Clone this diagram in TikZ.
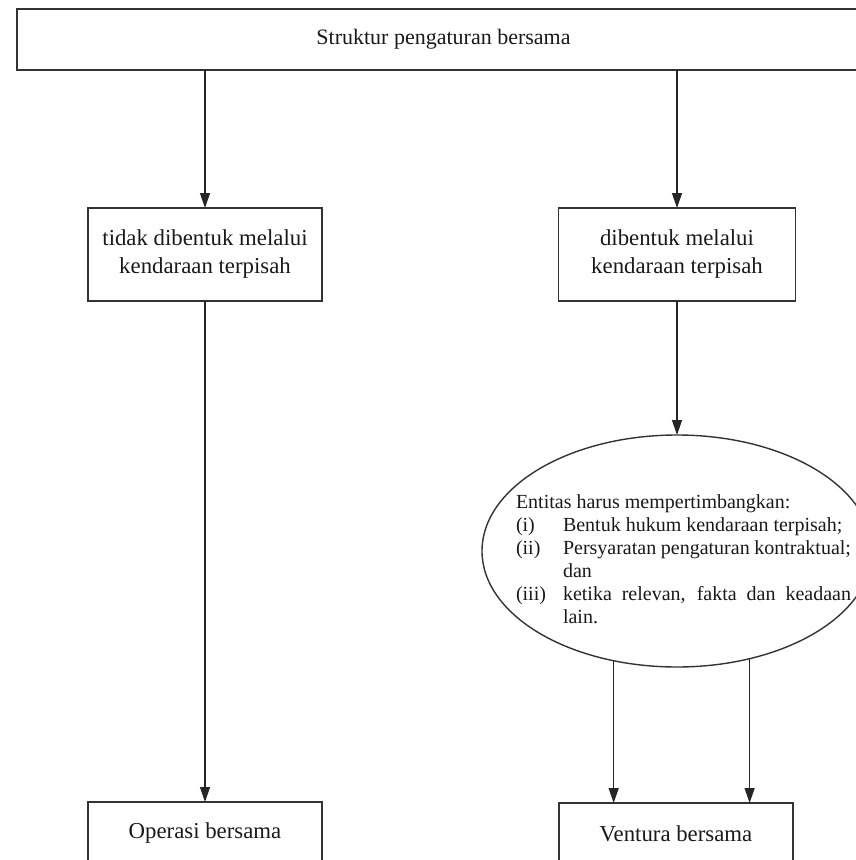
\documentclass[tikz,border=0pt]{standalone}
\usepackage{fontspec}
\setmainfont{Liberation Serif}
\usetikzlibrary{arrows.meta,shapes.geometric}
\begin{document}
\begin{tikzpicture}[x=1pt,y=-1pt,
  line/.style={draw=black!80, line width=1.4pt},
  box/.style={line, rectangle, inner sep=0pt, outer sep=0pt},
  arr/.style={draw=black!85, line width=1.3pt, -{Triangle[length=15pt,width=10pt]}},
  txt/.style={font=\fontsize{22.8}{28}\selectfont, align=center, text=black!90}]
\useasboundingbox (0,0) rectangle (856,860);
\clip (0,0) rectangle (856,860);

% top banner
\node[box, txt, font=\fontsize{22}{26}\selectfont, minimum width=853, minimum height=61, anchor=north west] (top) at (17,9)
  {Struktur pengaturan bersama};

% second level
\node[box, txt, minimum width=234, minimum height=93] (nl) at (205,254.5)
  {tidak dibentuk melalui\\kendaraan terpisah};
\node[box, txt, minimum width=237, minimum height=93] (nr) at (677,254.5)
  {dibentuk melalui\\kendaraan terpisah};

% assessment ellipse
\node[ellipse, line, minimum width=390, minimum height=232, inner sep=0pt, outer sep=0pt] (ell) at (677,551) {};
\node[inner sep=0pt, text=black!90, font=\fontsize{20}{23}\selectfont] (elltext) at (683.5,559)
  {\parbox{335pt}{%
    Entitas harus mempertimbangkan:\par
    \hangindent=47pt\hangafter=1\noindent\makebox[47pt][l]{(i)}Bentuk hukum kendaraan terpisah;\par
    \hangindent=47pt\hangafter=1\noindent\makebox[47pt][l]{(ii)}Persyaratan pengaturan kontraktual; dan\par
    \hangindent=47pt\hangafter=1\noindent\makebox[47pt][l]{(iii)}ketika relevan, fakta dan keadaan lain.\par}};

% outcomes
\node[box, txt, minimum width=234, minimum height=62] (ob) at (205,833) {Operasi bersama};
\node[box, txt, minimum width=234, minimum height=62] (vb) at (676,834) {Ventura bersama};

% connectors
\draw[arr] (top.south -| nl.north) -- (nl.north);
\draw[arr] (top.south -| nr.north) -- (nr.north);
\draw[arr] (nr.south) -- (ell.north);
\draw[arr] (nl.south) -- (ob.north);
\draw[arr] (ell.240) -- (ell.240 |- vb.north);
\draw[arr] (ell.304) -- (ell.304 |- vb.north);
\end{tikzpicture}
\end{document}
